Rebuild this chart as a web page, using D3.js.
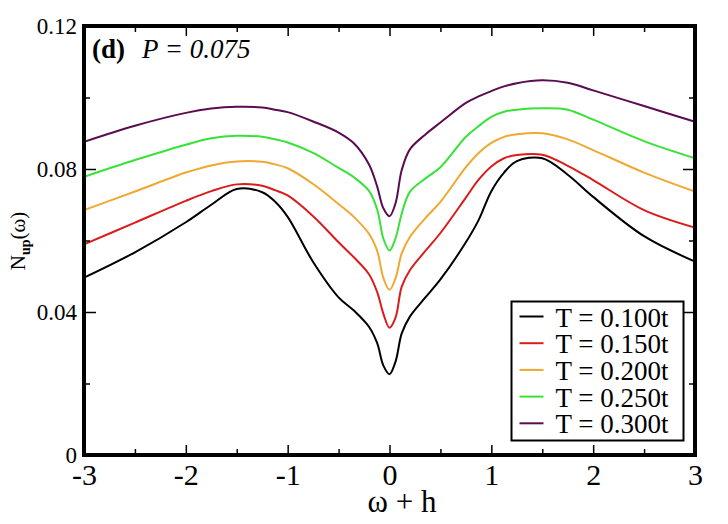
<!DOCTYPE html>
<html>
<head>
<meta charset="utf-8">
<script src="https://cdn.jsdelivr.net/npm/d3@7"></script>
<style>
  body { margin: 0; background: #fff; }
  svg { display: block; }
  svg text { font-family: "Liberation Serif", "DejaVu Serif", serif; }
</style>
</head>
<body>
<svg id="chart" width="728" height="524"></svg>
<script>
// frequency grid (omega + h) and spectral weight for each temperature
const omega = [-3, -2.5, -2, -1.75, -1.5, -1.25, -1.125, -1, -0.75, -0.5, -0.35, -0.2, -0.12, -0.06, 0,
  0.06, 0.12, 0.2, 0.35, 0.5, 0.75, 0.875, 1, 1.125, 1.25, 1.5, 1.75, 2, 2.5, 3];

const nT100 = [0.0496, 0.0567, 0.0651, 0.0700, 0.0744, 0.0735, 0.0709, 0.0666, 0.0540, 0.0441, 0.0404, 0.0358, 0.0312, 0.0250, 0.0226,
  0.0262, 0.0340, 0.0387, 0.0440, 0.0491, 0.0595, 0.0657, 0.0738, 0.0790, 0.0822, 0.0830, 0.0784, 0.0722, 0.0612, 0.0541];
const nT150 = [0.0589, 0.0650, 0.0711, 0.0738, 0.0757, 0.0753, 0.0741, 0.0726, 0.0668, 0.0595, 0.0553, 0.0505, 0.0455, 0.0395, 0.0356,
  0.0385, 0.0471, 0.0517, 0.0570, 0.0621, 0.0720, 0.0770, 0.0807, 0.0830, 0.0839, 0.0840, 0.0809, 0.0769, 0.0685, 0.0636];
const nT200 = [0.0685, 0.0737, 0.0790, 0.0810, 0.0821, 0.0820, 0.0813, 0.0802, 0.0758, 0.0702, 0.0666, 0.0618, 0.0570, 0.0495, 0.0462,
  0.0495, 0.0564, 0.0610, 0.0662, 0.0708, 0.0805, 0.0845, 0.0873, 0.0890, 0.0897, 0.0900, 0.0883, 0.0853, 0.0790, 0.0737];
const nT250 = [0.0778, 0.0825, 0.0868, 0.0886, 0.0893, 0.0890, 0.0883, 0.0874, 0.0845, 0.0803, 0.0777, 0.0738, 0.0686, 0.0605, 0.0572,
  0.0607, 0.0675, 0.0736, 0.0773, 0.0805, 0.0890, 0.0920, 0.0946, 0.0960, 0.0966, 0.0970, 0.0966, 0.0938, 0.0878, 0.0830];
const nT300 = [0.0876, 0.0921, 0.0957, 0.0969, 0.0974, 0.0972, 0.0966, 0.0959, 0.0933, 0.0902, 0.0872, 0.0812, 0.0750, 0.0690, 0.0668,
  0.0705, 0.0797, 0.0855, 0.0896, 0.0930, 0.0985, 0.1003, 0.1018, 0.1031, 0.1040, 0.1048, 0.1041, 0.1020, 0.0976, 0.0932];

const seriesNames = ['T = 0.100t', 'T = 0.150t', 'T = 0.200t', 'T = 0.250t', 'T = 0.300t'];
const seriesValues = [nT100, nT150, nT200, nT250, nT300];
const seriesColors = ['#000000', '#da1c1c', '#f0a830', '#38e238', '#5a0c50'];

const xMajor = [-3, -2, -1, 0, 1, 2, 3];
const xMinor = [-2.5, -1.5, -0.5, 0.5, 1.5, 2.5];
const yMajor = [0, 0.04, 0.08, 0.12];
const yMinor = [0.02, 0.06, 0.10];

const serif = '"Liberation Serif", "DejaVu Serif", serif';

const svg = d3.select('#chart');
const margin = { top: 26, right: 33, bottom: 69, left: 84 };
const width = 728 - margin.left - margin.right;
const height = 524 - margin.top - margin.bottom;

const g = svg.append('g').attr('transform', `translate(${margin.left},${margin.top})`);

const x = d3.scaleLinear().domain([-3, 3]).range([0, width]);
const y = d3.scaleLinear().domain([0, 0.12]).range([height, 0]);

// curves
const line = d3.line().x(d => x(d[0])).y(d => y(d[1])).curve(d3.curveCatmullRom.alpha(0.5));
seriesValues.forEach((vals, i) => {
  g.append('path')
    .datum(omega.map((w, k) => [w, vals[k]]))
    .attr('fill', 'none')
    .attr('stroke', seriesColors[i])
    .attr('stroke-width', 2)
    .attr('d', line);
});

// ticks, all pointing inward, mirrored on top/right
function styleAxis(sel) {
  sel.attr('font-family', serif).style('font-family', serif);
  sel.select('.domain').remove();
  sel.selectAll('line').attr('stroke', '#000').attr('stroke-width', 1.5);
}
g.append('g').attr('transform', `translate(0,${height})`)
  .call(d3.axisBottom(x).tickValues(xMajor).tickSize(-10).tickPadding(9)
    .tickFormat(d => d < 0 ? '-' + Math.abs(d) : String(d)))
  .call(styleAxis)
  .selectAll('text').attr('font-size', 30).attr('fill', '#000');
g.append('g').attr('transform', `translate(0,${height})`)
  .call(d3.axisBottom(x).tickValues(xMinor).tickSize(-6).tickFormat(''))
  .call(styleAxis);
g.append('g')
  .call(d3.axisTop(x).tickValues(xMajor).tickSize(-10).tickFormat(''))
  .call(styleAxis);
g.append('g')
  .call(d3.axisTop(x).tickValues(xMinor).tickSize(-6).tickFormat(''))
  .call(styleAxis);

g.append('g')
  .call(d3.axisLeft(y).tickValues(yMajor).tickSize(-12).tickPadding(7)
    .tickFormat(d => d === 0 ? '0' : d3.format('.2f')(d)))
  .call(styleAxis)
  .selectAll('text').attr('font-size', 23).attr('fill', '#000');
g.append('g')
  .call(d3.axisLeft(y).tickValues(yMinor).tickSize(-6).tickFormat(''))
  .call(styleAxis);
g.append('g').attr('transform', `translate(${width},0)`)
  .call(d3.axisRight(y).tickValues(yMajor).tickSize(-12).tickFormat(''))
  .call(styleAxis);
g.append('g').attr('transform', `translate(${width},0)`)
  .call(d3.axisRight(y).tickValues(yMinor).tickSize(-6).tickFormat(''))
  .call(styleAxis);

// frame
g.append('rect')
  .attr('x', 0).attr('y', 0).attr('width', width).attr('height', height)
  .attr('fill', 'none').attr('stroke', '#000').attr('stroke-width', 4);

// panel label
const title = g.append('text').attr('x', 8).attr('y', 32).attr('font-size', 27).attr('fill', '#000');
title.append('tspan').attr('font-weight', 'bold').text('(d)');
title.append('tspan').attr('dx', 17).attr('font-style', 'italic').text('P = 0.075');

// axis titles
svg.append('text')
  .attr('x', 402).attr('y', 512)
  .attr('text-anchor', 'middle').attr('font-size', 31).attr('fill', '#000')
  .text('ω + h');

const yl = svg.append('text')
  .attr('transform', 'translate(25,241) rotate(-90)')
  .attr('text-anchor', 'middle').attr('font-size', 21).attr('fill', '#000');
yl.append('tspan').text('N');
yl.append('tspan').attr('font-size', 14).attr('font-weight', 'bold').attr('dy', 5).text('up');
yl.append('tspan').attr('dy', -5).text('(ω)');

// legend
const legend = g.append('g').attr('transform', `translate(${511.5 - margin.left},${301.5 - margin.top})`);
legend.append('rect')
  .attr('width', 172).attr('height', 139)
  .attr('fill', '#fff').attr('stroke', '#000').attr('stroke-width', 2);
seriesNames.forEach((name, i) => {
  const row = legend.append('g').attr('transform', `translate(0,${15 + i * 26.7})`);
  row.append('line').attr('x1', 8).attr('x2', 32).attr('y1', 0).attr('y2', 0)
    .attr('stroke', seriesColors[i]).attr('stroke-width', 2);
  row.append('text').attr('x', 44).attr('y', 10).attr('font-size', 27).attr('fill', '#000').text(name);
});
</script>
</body>
</html>
